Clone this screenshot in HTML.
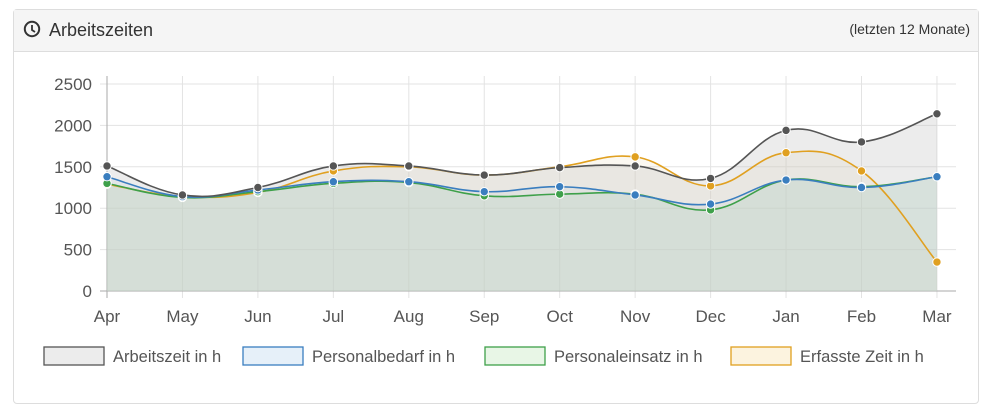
<!DOCTYPE html><html><head><meta charset="utf-8"><style>
body{margin:0;background:#fff;font-family:"Liberation Sans",sans-serif;width:991px;height:416px;overflow:hidden}
.card{position:absolute;left:13px;top:9px;width:964px;height:393px;border:1px solid #ddd;border-radius:4px;background:#fff}
.hd{height:41px;background:#f5f5f5;border-bottom:1px solid #ddd;position:relative}
.t{position:absolute;left:35px;top:10px;font-size:18px;color:#333}
.r{position:absolute;right:8px;top:11px;font-size:14px;color:#333}
svg{position:absolute;left:0;top:0}
</style></head><body>
<div class="card"><div class="hd"><div class="t">Arbeitszeiten</div><div class="r">(letzten 12 Monate)</div></div></div>
<svg width="991" height="416" id="s" font-family="Liberation Sans, sans-serif"></svg>
<script>
const s=document.getElementById('s');let h='';
h+='<circle cx="32" cy="29" r="7.2" fill="none" stroke="#333" stroke-width="2"/><path d="M32 25v5l3 2" fill="none" stroke="#333" stroke-width="1.8"/>';
const X=i=>107+i*75.45,Y=v=>291-v*0.0828;
for(let v=0;v<=2500;v+=500){h+=`<line x1="100" x2="956" y1="${Y(v)}" y2="${Y(v)}" stroke="#e3e3e3"/><text x="92" y="${Y(v)+6}" text-anchor="end" font-size="17" fill="#555">${v}</text>`;}
const m=['Apr','May','Jun','Jul','Aug','Sep','Oct','Nov','Dec','Jan','Feb','Mar'];
m.forEach((t,i)=>{h+=`<line x1="${X(i)}" x2="${X(i)}" y1="76" y2="298" stroke="#e3e3e3"/><text x="${X(i)}" y="322" text-anchor="middle" font-size="17" fill="#555">${t}</text>`});
h+=`<line x1="107" x2="107" y1="76" y2="298" stroke="#aaa"/><line x1="100" x2="956" y1="291" y2="291" stroke="#aaa"/>`;
const S=[
['#e0a020','rgba(240,228,200,0.25)',[1290,1140,1190,1450,1500,1400,1500,1620,1270,1670,1450,350]],
['#3ea04a','rgba(185,225,185,0.3)',[1300,1130,1200,1300,1310,1150,1170,1170,980,1340,1260,1380]],
['#3a7ebf','rgba(200,218,232,0.22)',[1380,1140,1220,1320,1320,1200,1260,1160,1050,1340,1250,1380]],
['#555','rgba(185,185,185,0.28)',[1510,1160,1250,1510,1510,1400,1490,1510,1360,1940,1800,2140]]];
function path(p){let d=`M${p[0][0]},${p[0][1]}`;for(let i=0;i<p.length-1;i++){const a=p[i-1]||p[i],b=p[i],c=p[i+1],e=p[i+2]||c,k=0.2;d+=` C${b[0]+(c[0]-a[0])*k},${b[1]+(c[1]-a[1])*k} ${c[0]-(e[0]-b[0])*k},${c[1]-(e[1]-b[1])*k} ${c[0]},${c[1]}`;}return d;}
let lines='',dots='';
S.forEach(([c,f,d])=>{const p=d.map((v,i)=>[X(i),Y(v)]);const pd=path(p);
h+=`<path d="${pd} L${X(11)},291 L107,291Z" fill="${f}"/>`;
lines+=`<path d="${pd}" fill="none" stroke="${c}" stroke-width="1.6"/>`;
p.forEach(q=>dots+=`<circle cx="${q[0]}" cy="${q[1]}" r="4.2" fill="${c}" stroke="#fff" stroke-width="1"/>`);});
h+=lines+dots;
const L=[['Arbeitszeit in h',44,'#555','#ececec'],['Personalbedarf in h',243,'#3a7ebf','#e6f0f9'],['Personaleinsatz in h',485,'#3ea04a','#e8f6e6'],['Erfasste Zeit in h',731,'#e0a020','#fcf3df']];
L.forEach(([t,x,c,f])=>{h+=`<rect x="${x}" y="347" width="60" height="18" fill="${f}" stroke="${c}" stroke-width="1.3"/><text x="${x+69}" y="362" font-size="16.5" fill="#555">${t}</text>`});
s.innerHTML=h;
</script></body></html>
